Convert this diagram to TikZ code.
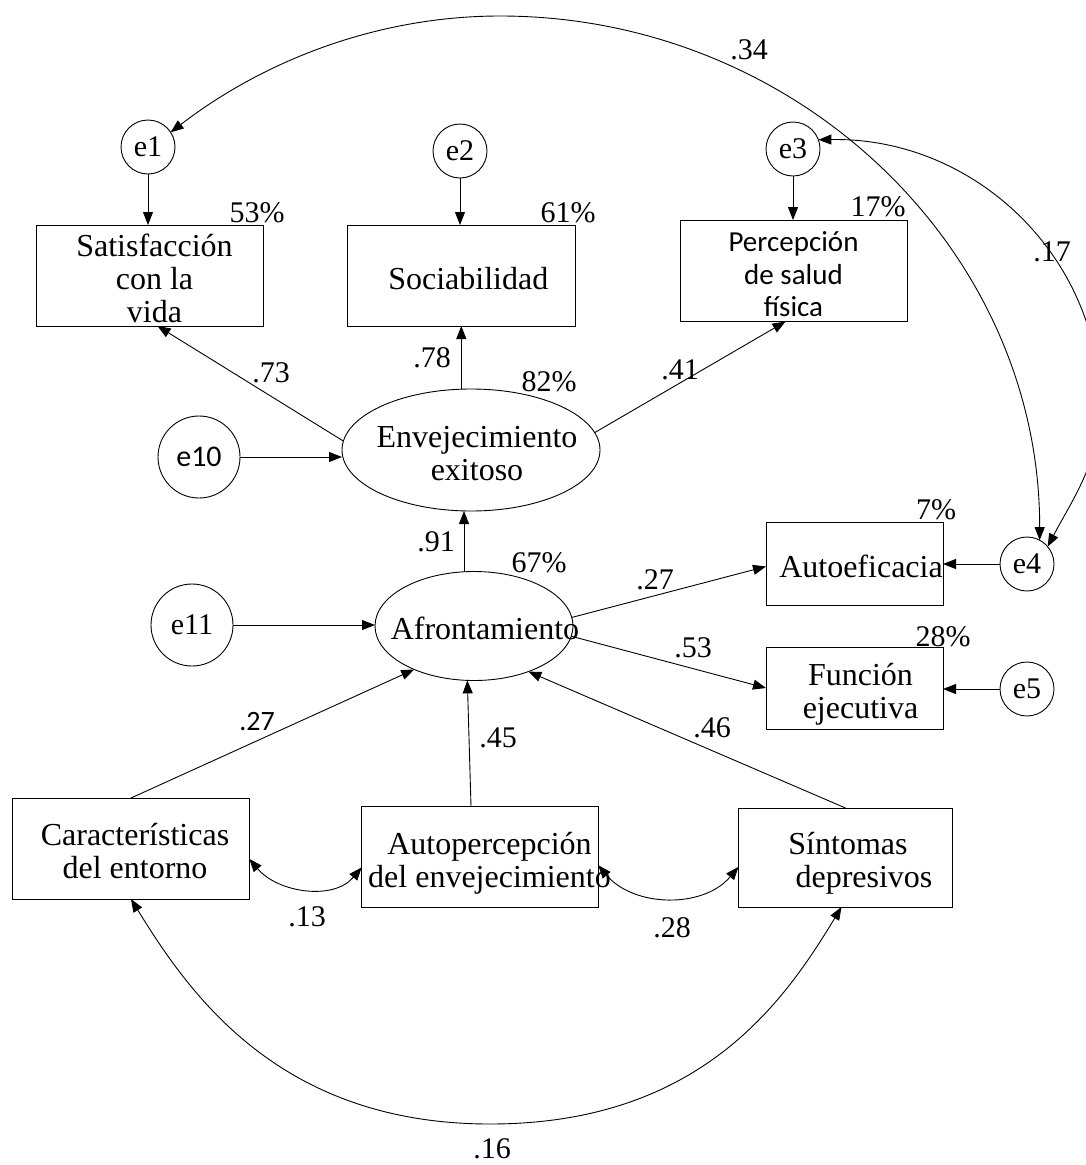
\documentclass[tikz,border=0pt]{standalone}
\usepackage{fontspec}
\setmainfont{Liberation Serif}
\newfontfamily\calib{Carlito}
\usetikzlibrary{arrows.meta,shapes.geometric}
% centred multi-line text, moved sideways by #1 and slightly down, without resizing the node
\newcommand{\nudge}[2]{\hspace*{#1}\makebox[0pt]{\raisebox{-7pt}[\height][\depth]{\begin{tabular}{@{}c@{}}#2\end{tabular}}}\hspace*{-#1}}

\begin{document}
\begin{tikzpicture}[x=1pt,y=1pt,
  line width=0.9pt,
  every node/.style={inner sep=0pt, outer sep=0pt},
  tip/.style={-{Triangle[length=13pt,width=10pt]}},
  both/.style={{Triangle[length=13pt,width=10pt]}-{Triangle[length=13pt,width=10pt]}},
  err/.style={circle, draw, minimum size=54pt, font=\fontsize{30}{32}\selectfont},
  bigerr/.style={circle, draw, minimum size=82pt, font=\fontsize{30}{32}\selectfont},
  obs/.style={rectangle, draw, font=\fontsize{32}{33}\selectfont},
  lat/.style={ellipse, draw, font=\fontsize{32}{33}\selectfont},
  num/.style={font=\fontsize{30}{32}\selectfont},
]
\useasboundingbox (0,0) rectangle (1086,-1165);
\clip (0,0) rectangle (1086,-1165);

% error terms
\node[err] (e1) at (148,-147) {e1};
\node[err] (e2) at (460,-151) {e2};
\node[err] (e3) at (793,-149) {e3};
\node[err] (e4) at (1027,-564) {e4};
\node[err] (e5) at (1027,-689) {e5};
\node[bigerr, font=\calib\fontsize{30}{32}\selectfont] (e10) at (199,-457) {e10};
\node[bigerr] (e11) at (192,-625) {e11};

% observed variables
\node[obs, minimum width=227pt, minimum height=101pt] (sat) at (149.5,-275.5)
  {\nudge{5pt}{Satisfacción\\con la\\vida}};
\node[obs, minimum width=227.5pt, minimum height=101pt] (soc) at (461.3,-275.5)
  {\nudge{7pt}{Sociabilidad}};
\node[obs, minimum width=227pt, minimum height=101.5pt, font=\calib\fontsize{29}{32.5}\selectfont] (perc) at (793.5,-270.8)
  {\nudge{0pt}{Percepción\\de salud\\física}};
\node[obs, minimum width=177pt, minimum height=83pt] (auto) at (854.5,-563.5)
  {\nudge{6.5pt}{Autoeficacia}};
\node[obs, minimum width=177pt, minimum height=82pt] (func) at (854.5,-688)
  {\nudge{6pt}{Función\\ejecutiva}};
\node[obs, minimum width=236.6pt, minimum height=101pt] (car) at (131,-848.5)
  {\nudge{4pt}{Características\\del entorno}};
\node[obs, minimum width=236.6pt, minimum height=101.7pt] (autop) at (480,-857)
  {\nudge{9.5pt}{Autopercepción\\del envejecimiento}};
\node[obs, minimum width=214pt, minimum height=99pt] (sint) at (845.5,-857.5)
  {\nudge{2.5pt}{Síntomas\\\hspace*{32pt}depresivos}};

% latent variables
\node[lat, minimum width=258pt, minimum height=122pt] (env) at (471,-450)
  {\nudge{6pt}{Envejecimiento\\exitoso}};
\node[lat, minimum width=198pt, minimum height=109pt] (aff) at (474,-626)
  {\nudge{11pt}{Afrontamiento}};

% residual paths
\draw[tip] (e1.south) -- (e1.south |- sat.north);
\draw[tip] (e2.south) -- (e2.south |- soc.north);
\draw[tip] (e3.south) -- (e3.south |- perc.north);
\draw[tip] (e4.west) -- (e4.west -| auto.east);
\draw[tip] (e5.west) -- (e5.west -| func.east);
\draw[tip] (e10.east) -- (e10.east -| env.west);
\draw[tip] (e11.east) -- (e11.east -| aff.west);

% structural paths
\draw[tip] (env.176) -- ([xshift=8pt]sat.south);
\draw[tip] (soc.south |- env.north) -- (soc.south);
\draw[tip] (env.8) -- ([xshift=-8pt]perc.south);
\draw[tip] ([xshift=-10pt]aff.north) -- ([xshift=-7pt]env.south);
\draw[tip] (aff.5) -- ([yshift=-3pt]auto.west);
\draw[tip] (aff.-6) -- (func.west);
\draw[tip] (car.north) -- (aff.216);
\draw[tip] ([xshift=-9pt]autop.north) -- (aff.263);
\draw[tip] (sint.north) -- (aff.-40);

% covariances
\draw[both] (car.-5.6) to[out=-50,in=-130] (autop.185);
\draw[both] (autop.-4) to[out=-50,in=-130] (sint.185);
\draw[both] (car.south) .. controls (190,-995) and (280,-1124) .. (490,-1124)
  .. controls (700,-1124) and (784,-1002) .. ([xshift=-4pt]sint.south);
\draw[both] (e4.62) .. controls (1040,-249) and (797,-16) .. (500,-16)
  .. controls (380,-16) and (266,-59) .. (e1.33);
\draw[both] (e3.20) .. controls (975,-137) and (1100,-257) .. (1100,-405)
  .. controls (1100,-462) and (1072,-500) .. (e4.40);

% coefficients and explained variance
\node[num] (c34) at (749,-50) {.34};
\node[num] (c17) at (1052,-252) {.17};
\node[num] (r53) at (257,-213) {53\%};
\node[num] (r61) at (568,-213) {61\%};
\node[num] (r17) at (878,-207) {17\%};
\node[num] (c73) at (271,-373) {.73};
\node[num] (c78) at (432,-358) {.78};
\node[num] (r82) at (549,-382) {82\%};
\node[num] (c41) at (680,-370) {.41};
\node[num] (c91) at (436,-542) {.91};
\node[num] (r67) at (539,-563) {67\%};
\node[num] (c27a) at (655,-580) {.27};
\node[num] (r7) at (936,-510) {7\%};
\node[num] (c53) at (693,-648) {.53};
\node[num] (r28) at (943,-637) {28\%};
\node[num] (c46) at (712,-728) {.46};
\node[num, font=\calib\fontsize{28}{30}\selectfont] (c27b) at (257,-722) {.27};
\node[num] (c45) at (498,-738) {.45};
\node[num] (c13) at (307,-917) {.13};
\node[num] (c28) at (672,-928) {.28};
\node[num] (c16) at (492,-1149) {.16};
\end{tikzpicture}
\end{document}
